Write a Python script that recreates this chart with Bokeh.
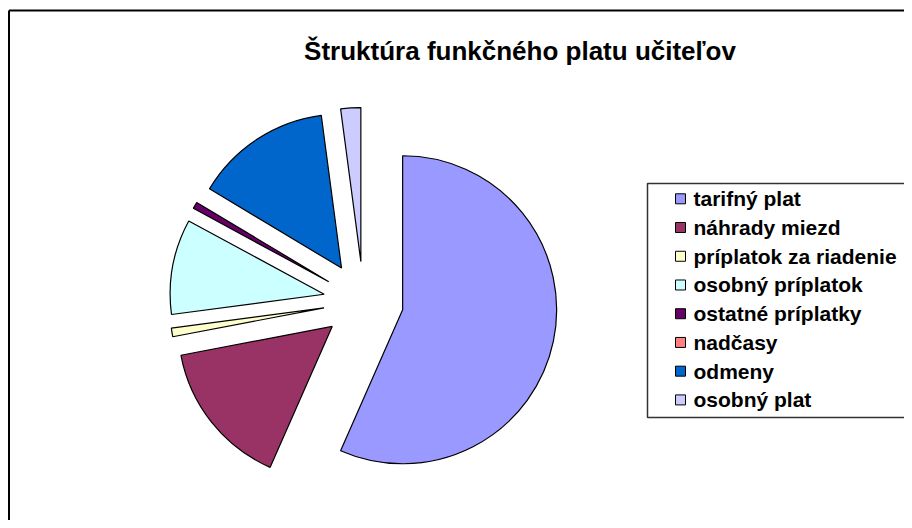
import numpy as np
from bokeh.plotting import figure
from bokeh.models import Range1d, ColumnDataSource
from bokeh.core.properties import value
from bokeh.embed import file_html
from bokeh.resources import INLINE

title_text = "Štruktúra funkčného platu učiteľov"
categories = ["tarifný plat", "náhrady miezd", "príplatok za riadenie",
              "osobný príplatok", "ostatné príplatky", "nadčasy",
              "odmeny", "osobný plat"]
shares = [56.6, 15.4, 0.9, 10.0, 0.7, 0.0, 14.3, 2.1]
colors = ["#9999FF", "#993366", "#FFFFCC", "#CCFFFF",
          "#660066", "#FF8080", "#0066CC", "#CCCCFF"]

W, H = 904, 520
FONT = "Liberation Sans"

p = figure(width=W, height=H, x_range=Range1d(0, W), y_range=Range1d(0, H),
           output_backend="svg", toolbar_location=None, min_border=0)
p.axis.visible = False
p.grid.visible = False
p.outline_line_color = None
p.background_fill_color = "white"
p.border_fill_color = "white"

# outer chart border (left and top edges; the rest lies outside the view)
p.segment(x0=[8.5, 8.5], y0=[-20, H - 10], x1=[8.5, W + 20], y1=[H - 10, H - 10],
          line_color="black", line_width=2)

# pie (Excel style: starts at 12 o'clock, clockwise, all slices exploded)
vals = np.array(shares, dtype=float)
frac = vals / vals.sum()
cum = np.concatenate([[0.0], np.cumsum(frac)]) * 2 * np.pi
start = np.pi / 2 - cum[:-1]
end = np.pi / 2 - cum[1:]
mid = (start + end) / 2
cx, cy, r, d = 363, 219, 154, 40
keep = vals > 0
src = ColumnDataSource(dict(
    x=(cx + d * np.cos(mid))[keep], y=(cy + d * np.sin(mid))[keep],
    start=start[keep], end=end[keep],
    color=[c for c, k in zip(colors, keep) if k],
    name=[n for n, k in zip(categories, keep) if k]))
p.wedge(x="x", y="y", radius=r, start_angle="start", end_angle="end",
        direction="clock", fill_color="color", line_color="black",
        line_width=1.2, source=src)

# title
p.text(x=[519.5], y=[470], text=[title_text], text_font=value(FONT),
       text_font_style="bold", text_font_size="26px", text_align="center",
       text_baseline="alphabetic", text_color="black")

# legend
p.quad(left=[647], right=[W + 20], top=[337], bottom=[103],
       fill_color="white", line_color="#333333", line_width=1.5)
n = len(categories)
ly = 321.7 - np.arange(n) * 28.73
lsrc = ColumnDataSource(dict(x=[680] * n, tx=[693] * n, y=ly,
                             color=colors, name=categories))
p.scatter(x="x", y="y", marker="square", size=10, fill_color="color",
          line_color="black", line_width=1, source=lsrc)
p.text(x="tx", y="y", text="name", text_font=value(FONT), text_font_style="bold",
       text_font_size="21px", text_align="left", text_baseline="middle",
       text_color="black", source=lsrc)

open("out.html", "w").write(file_html(p, INLINE))
